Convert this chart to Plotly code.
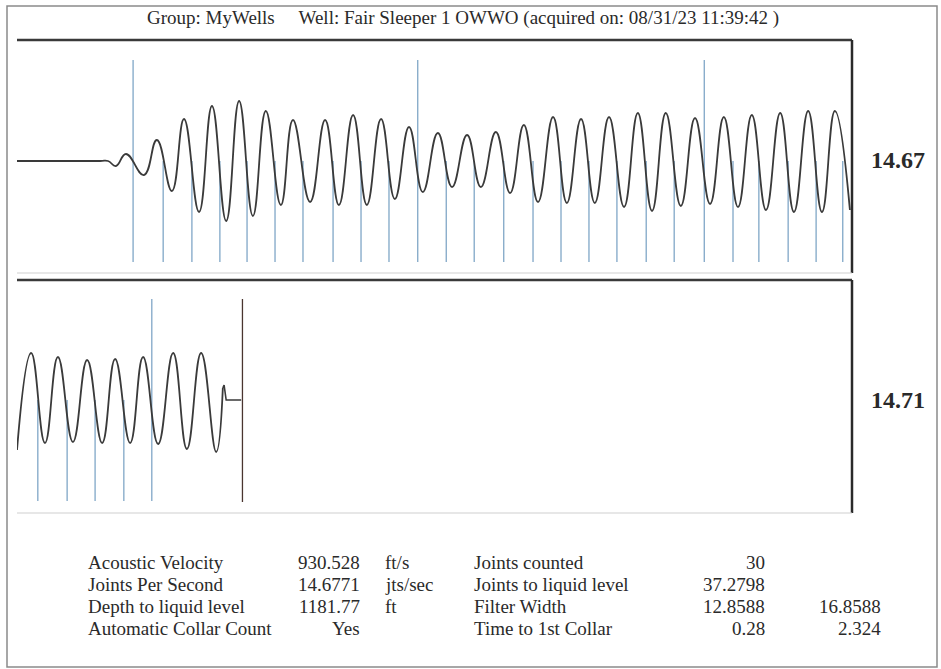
import plotly.graph_objects as go

# ---------------- data ----------------
title_text = "Group: MyWells&nbsp;&nbsp;&nbsp;&nbsp;&nbsp;Well: Fair Sleeper 1 OWWO (acquired on: 08/31/23 11:39:42 )"

# top panel waveform: extrema (time s, amplitude)
top_t = [0.000, 0.199, 0.218, 0.237, 0.261, 0.304, 0.335, 0.371, 0.400, 0.436, 0.467, 0.501,
         0.532, 0.565, 0.596, 0.632, 0.661, 0.702, 0.738, 0.771, 0.805, 0.838, 0.872, 0.905,
         0.939, 0.972, 1.008, 1.042, 1.078, 1.111, 1.147, 1.181, 1.214, 1.248, 1.284, 1.317,
         1.351, 1.384, 1.418, 1.454, 1.487, 1.521, 1.554, 1.590, 1.624, 1.660, 1.693, 1.727,
         1.760, 1.794, 1.828, 1.861, 1.895, 1.928, 1.959, 1.995]
top_a = [0, 0, 0, -5, 7, -14, 21, -30, 42, -51, 55, -60,
         60, -55, 50, -44, 41, -41, 41, -44, 46, -44, 42, -38,
         34, -31, 28, -26, 26, -26, 29, -32, 36, -41, 44, -42,
         42, -42, 44, -46, 48, -50, 48, -45, 43, -43, 44, -46,
         46, -49, 48, -51, 50, -51, 50, -49]

# bottom panel waveform (continuation)
bot_t = [2.000, 2.034, 2.067, 2.098, 2.134, 2.168, 2.204, 2.235, 2.271, 2.302, 2.338,
         2.374, 2.407, 2.441, 2.477, 2.493]
bot_a = [-50, 47, -43, 43, -42, 40, -43, 41, -43, 43, -44, 47, -49, 47, -52, 12]
# echo end (spike then flat)
tail_t = [2.493, 2.496, 2.501, 2.537]
tail_a = [12, 15, 0, 0]

# collar markers (s)
collar_t = [0.278, 0.350, 0.419, 0.486, 0.551, 0.618, 0.685, 0.757, 0.824, 0.891,
            0.960, 1.028, 1.095, 1.166, 1.236, 1.303, 1.370, 1.437, 1.507, 1.574,
            1.646, 1.715, 1.777, 1.847, 1.914, 1.978, 2.050, 2.120, 2.187, 2.256, 2.323]
liquid_level_t = 2.54

panel_labels = ["14.67", "14.71"]

# info table
left_names = ["Acoustic Velocity", "Joints Per Second", "Depth to liquid level", "Automatic Collar Count"]
left_values = ["930.528", "14.6771", "1181.77", "Yes"]
left_units = ["ft/s", "jts/sec", "ft", ""]
right_names = ["Joints counted", "Joints to liquid level", "Filter Width", "Time to 1st Collar"]
right_values = ["30", "37.2798", "12.8588", "0.28"]
right_extra = ["", "", "16.8588", "2.324"]

# ---------------- figure ----------------
W, H = 941, 669
FONT = "Liberation Serif, Times New Roman, serif"
WAVE = "#3a3a3a"
BLUE = "#5a8cb6"

def px(x):
    return x / W

def py(y):
    return 1 - y / H

fig = go.Figure()

def marker_trace(times, tall_flags, xa, ya):
    xs, ys = [], []
    for t, tall in zip(times, tall_flags):
        xs += [t, t, None]
        ys += [101 if tall else 0, -101, None]
    return go.Scatter(x=xs, y=ys, mode="lines", line=dict(color=BLUE, width=1),
                      xaxis=xa, yaxis=ya, hoverinfo="skip", showlegend=False)

tall = [i % 10 == 0 for i in range(len(collar_t))]
top_idx = [i for i, t in enumerate(collar_t) if t < 2.0]
bot_idx = [i for i, t in enumerate(collar_t) if t >= 2.0]

fig.add_trace(marker_trace([collar_t[i] for i in top_idx], [tall[i] for i in top_idx], "x", "y"))
fig.add_trace(marker_trace([collar_t[i] for i in bot_idx], [tall[i] for i in bot_idx], "x2", "y2"))

fig.add_trace(go.Scatter(x=top_t, y=top_a, mode="lines",
                         line=dict(color=WAVE, width=1.8, shape="spline", smoothing=1.3),
                         xaxis="x", yaxis="y", showlegend=False))
fig.add_trace(go.Scatter(x=bot_t, y=bot_a, mode="lines",
                         line=dict(color=WAVE, width=1.8, shape="spline", smoothing=1.3),
                         xaxis="x2", yaxis="y2", showlegend=False))
fig.add_trace(go.Scatter(x=tail_t, y=tail_a, mode="lines",
                         line=dict(color=WAVE, width=1.6),
                         xaxis="x2", yaxis="y2", showlegend=False))
fig.add_trace(go.Scatter(x=[liquid_level_t, liquid_level_t], y=[101, -102], mode="lines",
                         line=dict(color="#4a3530", width=1.3),
                         xaxis="x2", yaxis="y2", showlegend=False))

ax_common = dict(showgrid=False, zeroline=False, showticklabels=False, ticks="",
                 showline=False, fixedrange=True)
fig.update_layout(
    width=W, height=H, autosize=False,
    margin=dict(l=0, r=0, t=0, b=0),
    paper_bgcolor="white", plot_bgcolor="white",
    font=dict(family=FONT, color="#2a2a2a"),
    xaxis=dict(domain=[px(17), px(852)], range=[0, 2.0], anchor="y", **ax_common),
    yaxis=dict(domain=[py(273), py(40)], range=[-112, 121], anchor="x", **ax_common),
    xaxis2=dict(domain=[px(17), px(852)], range=[2.0, 4.0], anchor="y2", **ax_common),
    yaxis2=dict(domain=[py(513), py(280)], range=[-113, 120], anchor="x2", **ax_common),
)

shapes = []
# outer border
shapes.append(dict(type="rect", xref="paper", yref="paper", x0=px(7), x1=px(937), y0=py(667), y1=py(6),
                   line=dict(color="#8a8a8a", width=1.5)))
for xr, yr in (("x domain", "y domain"), ("x2 domain", "y2 domain")):
    shapes.append(dict(type="line", xref=xr, yref=yr, x0=0, x1=1, y0=1, y1=1,
                       line=dict(color="#3a3a3a", width=2.5)))
    shapes.append(dict(type="line", xref=xr, yref=yr, x0=1, x1=1, y0=0, y1=1,
                       line=dict(color="#2a2a2a", width=2.5)))
    shapes.append(dict(type="line", xref=xr, yref=yr, x0=0, x1=1, y0=0, y1=0,
                       line=dict(color="#cfcfcf", width=1)))
fig.update_layout(shapes=shapes)

ann = []
ann.append(dict(text=title_text, xref="paper", yref="paper", x=px(463), y=py(18),
                xanchor="center", yanchor="middle", showarrow=False,
                font=dict(size=19, family=FONT, color="#2a2a2a")))
for lab, yc in zip(panel_labels, (160, 400)):
    ann.append(dict(text="<b>%s</b>" % lab, xref="paper", yref="paper", x=px(898), y=py(yc),
                    xanchor="center", yanchor="middle", showarrow=False,
                    font=dict(size=24, family=FONT, color="#2a2a2a")))

row_y = [562, 584, 606, 628]
def add_text(txt, x, y, anchor):
    if txt:
        ann.append(dict(text=txt, xref="paper", yref="paper", x=px(x), y=py(y),
                        xanchor=anchor, yanchor="middle", showarrow=False,
                        font=dict(size=19, family=FONT, color="#2a2a2a")))
for i, yv in enumerate(row_y):
    add_text(left_names[i], 86, yv, "left")
    add_text(left_values[i], 362, yv, "right")
    add_text(left_units[i], 383, yv, "left")
    add_text(right_names[i], 472, yv, "left")
    add_text(right_values[i], 767, yv, "right")
    add_text(right_extra[i], 883, yv, "right")
fig.update_layout(annotations=ann)

fig.write_html("out.html", config={"displayModeBar": False},
               post_script="document.body.style.margin='0px';")
